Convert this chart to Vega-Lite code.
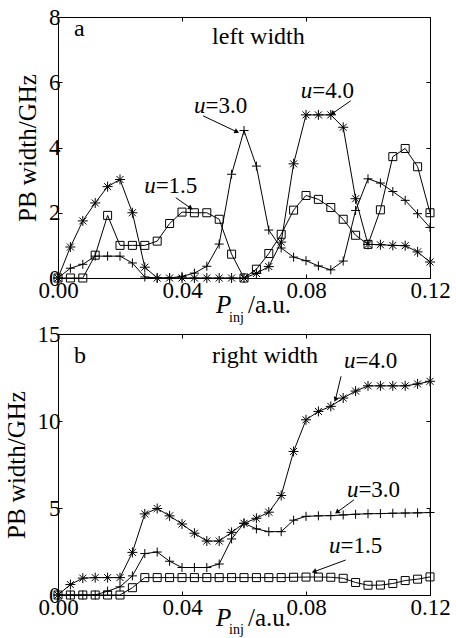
{
  "$schema": "https://vega.github.io/schema/vega-lite/v6.json",
  "background": "white",
  "padding": {"left": 3, "top": 5, "right": 5, "bottom": 0},
  "bounds": "flush",
  "spacing": 56,
  "config": {
    "font": "Liberation Serif",
    "view": {"stroke": "black", "strokeWidth": 1},
    "style": {"guide-label": {"font": "Liberation Serif", "fontSize": 23, "fill": "black"}, "guide-title": {"font": "Liberation Serif", "fontSize": 25, "fontWeight": "normal", "fill": "black"}},
    "axis": {
      "domainColor": "black", "tickColor": "black", "labelColor": "black", "titleColor": "black",
      "labelFont": "Liberation Serif", "labelFontSize": 23, "titleFont": "Liberation Serif",
      "titleFontSize": 25, "titleFontWeight": "normal", "grid": false, "tickSize": -4,
      "labelPadding": 2, "labelFlush": false, "labelOverlap": false, "domainWidth": 1, "tickWidth": 1
    }
  },
  "datasets": {
    "a": [
      {"u":"1.5","p":0,"v":0},{"u":"1.5","p":0.004,"v":0},{"u":"1.5","p":0.008,"v":0},{"u":"1.5","p":0.012,"v":0.7},{"u":"1.5","p":0.016,"v":1.92},{"u":"1.5","p":0.02,"v":1.0},{"u":"1.5","p":0.024,"v":1.0},{"u":"1.5","p":0.028,"v":1.0},{"u":"1.5","p":0.032,"v":1.13},{"u":"1.5","p":0.036,"v":1.67},{"u":"1.5","p":0.04,"v":2.02},{"u":"1.5","p":0.044,"v":2.0},{"u":"1.5","p":0.048,"v":2.0},{"u":"1.5","p":0.052,"v":1.8},{"u":"1.5","p":0.056,"v":0.73},{"u":"1.5","p":0.06,"v":0},{"u":"1.5","p":0.064,"v":0.27},{"u":"1.5","p":0.068,"v":0.75},{"u":"1.5","p":0.072,"v":1.34},{"u":"1.5","p":0.076,"v":2.08},{"u":"1.5","p":0.08,"v":2.53},{"u":"1.5","p":0.084,"v":2.41},{"u":"1.5","p":0.088,"v":2.16},{"u":"1.5","p":0.092,"v":1.8},{"u":"1.5","p":0.096,"v":1.31},{"u":"1.5","p":0.1,"v":1.03},{"u":"1.5","p":0.104,"v":2.09},{"u":"1.5","p":0.108,"v":3.72},{"u":"1.5","p":0.112,"v":3.97},{"u":"1.5","p":0.116,"v":3.41},{"u":"1.5","p":0.12,"v":2.0},
      {"u":"3.0","p":0,"v":0},{"u":"3.0","p":0.004,"v":0.3},{"u":"3.0","p":0.008,"v":0.42},{"u":"3.0","p":0.012,"v":0.67},{"u":"3.0","p":0.016,"v":0.67},{"u":"3.0","p":0.02,"v":0.67},{"u":"3.0","p":0.024,"v":0.46},{"u":"3.0","p":0.028,"v":0.03},{"u":"3.0","p":0.032,"v":0},{"u":"3.0","p":0.036,"v":0},{"u":"3.0","p":0.04,"v":0.05},{"u":"3.0","p":0.044,"v":0.15},{"u":"3.0","p":0.048,"v":0.36},{"u":"3.0","p":0.052,"v":1.04},{"u":"3.0","p":0.056,"v":3.18},{"u":"3.0","p":0.06,"v":4.52},{"u":"3.0","p":0.064,"v":3.43},{"u":"3.0","p":0.068,"v":1.47},{"u":"3.0","p":0.072,"v":0.92},{"u":"3.0","p":0.076,"v":0.64},{"u":"3.0","p":0.08,"v":0.53},{"u":"3.0","p":0.084,"v":0.37},{"u":"3.0","p":0.088,"v":0.25},{"u":"3.0","p":0.092,"v":0.52},{"u":"3.0","p":0.096,"v":2.07},{"u":"3.0","p":0.1,"v":3.04},{"u":"3.0","p":0.104,"v":2.91},{"u":"3.0","p":0.108,"v":2.65},{"u":"3.0","p":0.112,"v":2.38},{"u":"3.0","p":0.116,"v":1.97},{"u":"3.0","p":0.12,"v":1.55},
      {"u":"4.0","p":0,"v":0},{"u":"4.0","p":0.004,"v":0.95},{"u":"4.0","p":0.008,"v":1.75},{"u":"4.0","p":0.012,"v":2.3},{"u":"4.0","p":0.016,"v":2.8},{"u":"4.0","p":0.02,"v":3.02},{"u":"4.0","p":0.024,"v":2.0},{"u":"4.0","p":0.028,"v":0.33},{"u":"4.0","p":0.032,"v":0},{"u":"4.0","p":0.036,"v":0},{"u":"4.0","p":0.04,"v":0},{"u":"4.0","p":0.044,"v":0},{"u":"4.0","p":0.048,"v":0},{"u":"4.0","p":0.052,"v":0},{"u":"4.0","p":0.056,"v":0},{"u":"4.0","p":0.06,"v":0},{"u":"4.0","p":0.064,"v":0.14},{"u":"4.0","p":0.068,"v":0.35},{"u":"4.0","p":0.072,"v":1.1},{"u":"4.0","p":0.076,"v":3.5},{"u":"4.0","p":0.08,"v":5.0},{"u":"4.0","p":0.084,"v":5.0},{"u":"4.0","p":0.088,"v":5.0},{"u":"4.0","p":0.092,"v":4.62},{"u":"4.0","p":0.096,"v":2.43},{"u":"4.0","p":0.1,"v":1.03},{"u":"4.0","p":0.104,"v":1.02},{"u":"4.0","p":0.108,"v":1.0},{"u":"4.0","p":0.112,"v":0.99},{"u":"4.0","p":0.116,"v":0.8},{"u":"4.0","p":0.12,"v":0.49}
    ],
    "b": [
      {"u":"1.5","p":0,"v":0},{"u":"1.5","p":0.004,"v":0},{"u":"1.5","p":0.008,"v":0},{"u":"1.5","p":0.012,"v":0},{"u":"1.5","p":0.016,"v":0},{"u":"1.5","p":0.02,"v":0},{"u":"1.5","p":0.024,"v":0.42},{"u":"1.5","p":0.028,"v":1.0},{"u":"1.5","p":0.032,"v":1.0},{"u":"1.5","p":0.036,"v":1.0},{"u":"1.5","p":0.04,"v":1.0},{"u":"1.5","p":0.044,"v":1.0},{"u":"1.5","p":0.048,"v":1.0},{"u":"1.5","p":0.052,"v":1.0},{"u":"1.5","p":0.056,"v":1.0},{"u":"1.5","p":0.06,"v":1.0},{"u":"1.5","p":0.064,"v":1.0},{"u":"1.5","p":0.068,"v":1.0},{"u":"1.5","p":0.072,"v":1.0},{"u":"1.5","p":0.076,"v":1.02},{"u":"1.5","p":0.08,"v":1.03},{"u":"1.5","p":0.084,"v":1.03},{"u":"1.5","p":0.088,"v":1.02},{"u":"1.5","p":0.092,"v":0.96},{"u":"1.5","p":0.096,"v":0.72},{"u":"1.5","p":0.1,"v":0.56},{"u":"1.5","p":0.104,"v":0.57},{"u":"1.5","p":0.108,"v":0.66},{"u":"1.5","p":0.112,"v":0.83},{"u":"1.5","p":0.116,"v":0.91},{"u":"1.5","p":0.12,"v":1.04},
      {"u":"3.0","p":0,"v":0},{"u":"3.0","p":0.004,"v":0},{"u":"3.0","p":0.008,"v":0},{"u":"3.0","p":0.012,"v":0},{"u":"3.0","p":0.016,"v":0.22},{"u":"3.0","p":0.02,"v":0.47},{"u":"3.0","p":0.024,"v":1.1},{"u":"3.0","p":0.028,"v":2.38},{"u":"3.0","p":0.032,"v":2.47},{"u":"3.0","p":0.036,"v":1.94},{"u":"3.0","p":0.04,"v":1.58},{"u":"3.0","p":0.044,"v":1.58},{"u":"3.0","p":0.048,"v":1.58},{"u":"3.0","p":0.052,"v":1.78},{"u":"3.0","p":0.056,"v":3.22},{"u":"3.0","p":0.06,"v":4.12},{"u":"3.0","p":0.064,"v":3.8},{"u":"3.0","p":0.068,"v":3.64},{"u":"3.0","p":0.072,"v":3.64},{"u":"3.0","p":0.076,"v":4.3},{"u":"3.0","p":0.08,"v":4.52},{"u":"3.0","p":0.084,"v":4.55},{"u":"3.0","p":0.088,"v":4.56},{"u":"3.0","p":0.092,"v":4.6},{"u":"3.0","p":0.096,"v":4.64},{"u":"3.0","p":0.1,"v":4.67},{"u":"3.0","p":0.104,"v":4.68},{"u":"3.0","p":0.108,"v":4.7},{"u":"3.0","p":0.112,"v":4.71},{"u":"3.0","p":0.116,"v":4.72},{"u":"3.0","p":0.12,"v":4.74},
      {"u":"4.0","p":0,"v":0},{"u":"4.0","p":0.004,"v":0.6},{"u":"4.0","p":0.008,"v":0.97},{"u":"4.0","p":0.012,"v":1.0},{"u":"4.0","p":0.016,"v":1.0},{"u":"4.0","p":0.02,"v":1.0},{"u":"4.0","p":0.024,"v":2.45},{"u":"4.0","p":0.028,"v":4.66},{"u":"4.0","p":0.032,"v":4.97},{"u":"4.0","p":0.036,"v":4.55},{"u":"4.0","p":0.04,"v":4.08},{"u":"4.0","p":0.044,"v":3.55},{"u":"4.0","p":0.048,"v":3.1},{"u":"4.0","p":0.052,"v":3.1},{"u":"4.0","p":0.056,"v":3.6},{"u":"4.0","p":0.06,"v":4.12},{"u":"4.0","p":0.064,"v":4.41},{"u":"4.0","p":0.068,"v":4.76},{"u":"4.0","p":0.072,"v":5.72},{"u":"4.0","p":0.076,"v":8.25},{"u":"4.0","p":0.08,"v":10.07},{"u":"4.0","p":0.084,"v":10.55},{"u":"4.0","p":0.088,"v":10.84},{"u":"4.0","p":0.092,"v":11.32},{"u":"4.0","p":0.096,"v":11.72},{"u":"4.0","p":0.1,"v":12.02},{"u":"4.0","p":0.104,"v":12.02},{"u":"4.0","p":0.108,"v":12.02},{"u":"4.0","p":0.112,"v":12.02},{"u":"4.0","p":0.116,"v":12.13},{"u":"4.0","p":0.12,"v":12.28}
    ],
    "ulab": [
      {"panel":"a","text":"=3.0","p":0.0476,"v":5.06},
      {"panel":"a","text":"=1.5","p":0.0315,"v":2.61},
      {"panel":"a","text":"=4.0","p":0.082,"v":5.53},
      {"panel":"b","text":"=4.0","p":0.096,"v":13.05},
      {"panel":"b","text":"=3.0","p":0.0969,"v":5.66},
      {"panel":"b","text":"=1.5","p":0.0911,"v":2.4}
    ],
    "arrows": [
      {"panel":"a","u":"3.0","p":0.0468,"v":4.97,"p2":0.0577,"v2":4.48},
      {"panel":"a","u":"1.5","p":0.038,"v":2.46,"p2":0.0428,"v2":2.14},
      {"panel":"a","u":"4.0","p":0.0944,"v":5.43,"p2":0.0885,"v2":5.04},
      {"panel":"b","u":"4.0","p":0.0913,"v":12.57,"p2":0.0895,"v2":11.23},
      {"panel":"b","u":"3.0","p":0.0955,"v":5.47,"p2":0.09,"v2":4.76},
      {"panel":"b","u":"1.5","p":0.0928,"v":2.01,"p2":0.0826,"v2":1.34}
    ],
    "notes": [
      {"panel":"a","text":"a","p":0.0052,"v":7.42},
      {"panel":"a","text":"left width","p":0.0497,"v":7.17},
      {"panel":"b","text":"b","p":0.0052,"v":13.33},
      {"panel":"b","text":"right width","p":0.0497,"v":13.33}
    ],
    "one": [{"k": 1}]
  },
  "vconcat": [
    {
      "width": 372, "height": 261,
      "layer": [
        {"data": {"name": "a"}, "mark": {"type": "line", "color": "black", "strokeWidth": 1},
         "encoding": {
           "x": {"field": "p", "type": "quantitative", "scale": {"domain": [0, 0.12], "nice": false}, "axis": {"orient": "bottom", "values": [0, 0.04, 0.08, 0.12], "format": ".2f", "title": null, "labelFont": "Liberation Serif", "labelFontSize": 23, "labelPadding": 5}},
           "y": {"field": "v", "type": "quantitative", "scale": {"domain": [0, 8], "nice": false}, "axis": {"orient": "left", "values": [0, 2, 4, 6, 8], "title": "PB width/GHz", "titlePadding": 8, "labelFont": "Liberation Serif", "labelFontSize": 23, "titleFont": "Liberation Serif", "titleFontSize": 25, "titleFontWeight": "normal"}},
           "detail": {"field": "u"}}},
        {"data": {"name": "a"}, "mark": {"type": "point", "filled": false, "color": "black", "strokeWidth": 1, "opacity": 1},
         "encoding": {
           "x": {"field": "p", "type": "quantitative", "axis": {"orient": "top", "labels": false, "title": null, "values": [0, 0.04, 0.08, 0.12]}},
           "y": {"field": "v", "type": "quantitative", "axis": {"orient": "right", "labels": false, "title": null, "values": [0, 2, 4, 6, 8]}},
           "shape": {"field": "u", "type": "nominal", "scale": {"domain": ["1.5", "3.0", "4.0"], "range": ["square", "M-1,0L1,0M0,-1L0,1", "M-1,0L1,0M0,-1L0,1M-0.7,-0.7L0.7,0.7M-0.7,0.7L0.7,-0.7"]}, "legend": null},
           "size": {"field": "u", "type": "nominal", "scale": {"domain": ["1.5", "3.0", "4.0"], "range": [64, 100, 100]}, "legend": null}}},
        {"data": {"name": "arrows"}, "transform": [{"filter": "datum.panel === 'a'"}], "mark": {"type": "rule", "color": "black", "strokeWidth": 1},
         "encoding": {"x": {"field": "p", "type": "quantitative", "axis": null}, "y": {"field": "v", "type": "quantitative", "axis": null}, "x2": {"field": "p2"}, "y2": {"field": "v2"}}},
        {"data": {"name": "arrows"}, "transform": [{"filter": "datum.panel === 'a' && datum.u === '3.0'"}], "mark": {"type": "point", "shape": "triangle-right", "filled": true, "color": "black", "size": 30, "angle": 25, "opacity": 1},
         "encoding": {"x": {"field": "p2", "type": "quantitative", "axis": null}, "y": {"field": "v2", "type": "quantitative", "axis": null}}},
        {"data": {"name": "arrows"}, "transform": [{"filter": "datum.panel === 'a' && datum.u === '1.5'"}], "mark": {"type": "point", "shape": "triangle-right", "filled": true, "color": "black", "size": 30, "angle": 35, "opacity": 1},
         "encoding": {"x": {"field": "p2", "type": "quantitative", "axis": null}, "y": {"field": "v2", "type": "quantitative", "axis": null}}},
        {"data": {"name": "arrows"}, "transform": [{"filter": "datum.panel === 'a' && datum.u === '4.0'"}], "mark": {"type": "point", "shape": "triangle-right", "filled": true, "color": "black", "size": 30, "angle": 145, "opacity": 1},
         "encoding": {"x": {"field": "p2", "type": "quantitative", "axis": null}, "y": {"field": "v2", "type": "quantitative", "axis": null}}},
        {"data": {"name": "ulab"}, "transform": [{"filter": "datum.panel === 'a'"}], "mark": {"type": "text", "align": "right", "baseline": "alphabetic", "fontSize": 23, "fontStyle": "italic", "font": "Liberation Serif", "color": "black", "text": "u"},
         "encoding": {"x": {"field": "p", "type": "quantitative", "axis": null}, "y": {"field": "v", "type": "quantitative", "axis": null}}},
        {"data": {"name": "ulab"}, "transform": [{"filter": "datum.panel === 'a'"}], "mark": {"type": "text", "align": "left", "baseline": "alphabetic", "fontSize": 23, "font": "Liberation Serif", "color": "black"},
         "encoding": {"x": {"field": "p", "type": "quantitative", "axis": null}, "y": {"field": "v", "type": "quantitative", "axis": null}, "text": {"field": "text"}}},
        {"data": {"name": "notes"}, "transform": [{"filter": "datum.panel === 'a'"}], "mark": {"type": "text", "align": "left", "baseline": "alphabetic", "fontSize": 24, "font": "Liberation Serif", "color": "black"},
         "encoding": {"x": {"field": "p", "type": "quantitative", "axis": null}, "y": {"field": "v", "type": "quantitative", "axis": null}, "text": {"field": "text"}}},
        {"data": {"name": "one"}, "mark": {"type": "text", "align": "left", "baseline": "alphabetic", "fontSize": 25, "fontStyle": "italic", "font": "Liberation Serif", "color": "black", "text": "P"},
         "encoding": {"x": {"datum": 0.051, "type": "quantitative", "axis": null}, "y": {"datum": -1.07, "type": "quantitative", "axis": null}}},
        {"data": {"name": "one"}, "mark": {"type": "text", "align": "left", "baseline": "alphabetic", "fontSize": 14, "font": "Liberation Serif", "color": "black", "text": "inj"},
         "encoding": {"x": {"datum": 0.0552, "type": "quantitative", "axis": null}, "y": {"datum": -1.35, "type": "quantitative", "axis": null}}},
        {"data": {"name": "one"}, "mark": {"type": "text", "align": "left", "baseline": "alphabetic", "fontSize": 25, "font": "Liberation Serif", "color": "black", "text": "/a.u."},
         "encoding": {"x": {"datum": 0.0613, "type": "quantitative", "axis": null}, "y": {"datum": -1.07, "type": "quantitative", "axis": null}}}
      ]
    },
    {
      "width": 372, "height": 261,
      "layer": [
        {"data": {"name": "b"}, "mark": {"type": "line", "color": "black", "strokeWidth": 1},
         "encoding": {
           "x": {"field": "p", "type": "quantitative", "scale": {"domain": [0, 0.12], "nice": false}, "axis": {"orient": "bottom", "values": [0, 0.04, 0.08, 0.12], "format": ".2f", "title": null, "labelFont": "Liberation Serif", "labelFontSize": 23, "labelPadding": 5}},
           "y": {"field": "v", "type": "quantitative", "scale": {"domain": [0, 15], "nice": false}, "axis": {"orient": "left", "values": [0, 5, 10, 15], "title": "PB width/GHz", "titlePadding": 8, "labelFont": "Liberation Serif", "labelFontSize": 23, "titleFont": "Liberation Serif", "titleFontSize": 25, "titleFontWeight": "normal"}},
           "detail": {"field": "u"}}},
        {"data": {"name": "b"}, "mark": {"type": "point", "filled": false, "color": "black", "strokeWidth": 1, "opacity": 1},
         "encoding": {
           "x": {"field": "p", "type": "quantitative", "axis": {"orient": "top", "labels": false, "title": null, "values": [0, 0.04, 0.08, 0.12]}},
           "y": {"field": "v", "type": "quantitative", "axis": {"orient": "right", "labels": false, "title": null, "values": [0, 5, 10, 15]}},
           "shape": {"field": "u", "type": "nominal", "scale": {"domain": ["1.5", "3.0", "4.0"], "range": ["square", "M-1,0L1,0M0,-1L0,1", "M-1,0L1,0M0,-1L0,1M-0.7,-0.7L0.7,0.7M-0.7,0.7L0.7,-0.7"]}, "legend": null},
           "size": {"field": "u", "type": "nominal", "scale": {"domain": ["1.5", "3.0", "4.0"], "range": [64, 100, 100]}, "legend": null}}},
        {"data": {"name": "arrows"}, "transform": [{"filter": "datum.panel === 'b'"}], "mark": {"type": "rule", "color": "black", "strokeWidth": 1},
         "encoding": {"x": {"field": "p", "type": "quantitative", "axis": null}, "y": {"field": "v", "type": "quantitative", "axis": null}, "x2": {"field": "p2"}, "y2": {"field": "v2"}}},
        {"data": {"name": "arrows"}, "transform": [{"filter": "datum.panel === 'b' && datum.u === '4.0'"}], "mark": {"type": "point", "shape": "triangle-right", "filled": true, "color": "black", "size": 30, "angle": 113, "opacity": 1},
         "encoding": {"x": {"field": "p2", "type": "quantitative", "axis": null}, "y": {"field": "v2", "type": "quantitative", "axis": null}}},
        {"data": {"name": "arrows"}, "transform": [{"filter": "datum.panel === 'b' && datum.u === '3.0'"}], "mark": {"type": "point", "shape": "triangle-right", "filled": true, "color": "black", "size": 30, "angle": 143, "opacity": 1},
         "encoding": {"x": {"field": "p2", "type": "quantitative", "axis": null}, "y": {"field": "v2", "type": "quantitative", "axis": null}}},
        {"data": {"name": "arrows"}, "transform": [{"filter": "datum.panel === 'b' && datum.u === '1.5'"}], "mark": {"type": "point", "shape": "triangle-right", "filled": true, "color": "black", "size": 30, "angle": 160, "opacity": 1},
         "encoding": {"x": {"field": "p2", "type": "quantitative", "axis": null}, "y": {"field": "v2", "type": "quantitative", "axis": null}}},
        {"data": {"name": "ulab"}, "transform": [{"filter": "datum.panel === 'b'"}], "mark": {"type": "text", "align": "right", "baseline": "alphabetic", "fontSize": 23, "fontStyle": "italic", "font": "Liberation Serif", "color": "black", "text": "u"},
         "encoding": {"x": {"field": "p", "type": "quantitative", "axis": null}, "y": {"field": "v", "type": "quantitative", "axis": null}}},
        {"data": {"name": "ulab"}, "transform": [{"filter": "datum.panel === 'b'"}], "mark": {"type": "text", "align": "left", "baseline": "alphabetic", "fontSize": 23, "font": "Liberation Serif", "color": "black"},
         "encoding": {"x": {"field": "p", "type": "quantitative", "axis": null}, "y": {"field": "v", "type": "quantitative", "axis": null}, "text": {"field": "text"}}},
        {"data": {"name": "notes"}, "transform": [{"filter": "datum.panel === 'b'"}], "mark": {"type": "text", "align": "left", "baseline": "alphabetic", "fontSize": 24, "font": "Liberation Serif", "color": "black"},
         "encoding": {"x": {"field": "p", "type": "quantitative", "axis": null}, "y": {"field": "v", "type": "quantitative", "axis": null}, "text": {"field": "text"}}},
        {"data": {"name": "one"}, "mark": {"type": "text", "align": "left", "baseline": "alphabetic", "fontSize": 25, "fontStyle": "italic", "font": "Liberation Serif", "color": "black", "text": "P"},
         "encoding": {"x": {"datum": 0.051, "type": "quantitative", "axis": null}, "y": {"datum": -1.8, "type": "quantitative", "axis": null}}},
        {"data": {"name": "one"}, "mark": {"type": "text", "align": "left", "baseline": "alphabetic", "fontSize": 14, "font": "Liberation Serif", "color": "black", "text": "inj"},
         "encoding": {"x": {"datum": 0.0552, "type": "quantitative", "axis": null}, "y": {"datum": -2.27, "type": "quantitative", "axis": null}}},
        {"data": {"name": "one"}, "mark": {"type": "text", "align": "left", "baseline": "alphabetic", "fontSize": 25, "font": "Liberation Serif", "color": "black", "text": "/a.u."},
         "encoding": {"x": {"datum": 0.0613, "type": "quantitative", "axis": null}, "y": {"datum": -1.8, "type": "quantitative", "axis": null}}}
      ]
    }
  ]
}
